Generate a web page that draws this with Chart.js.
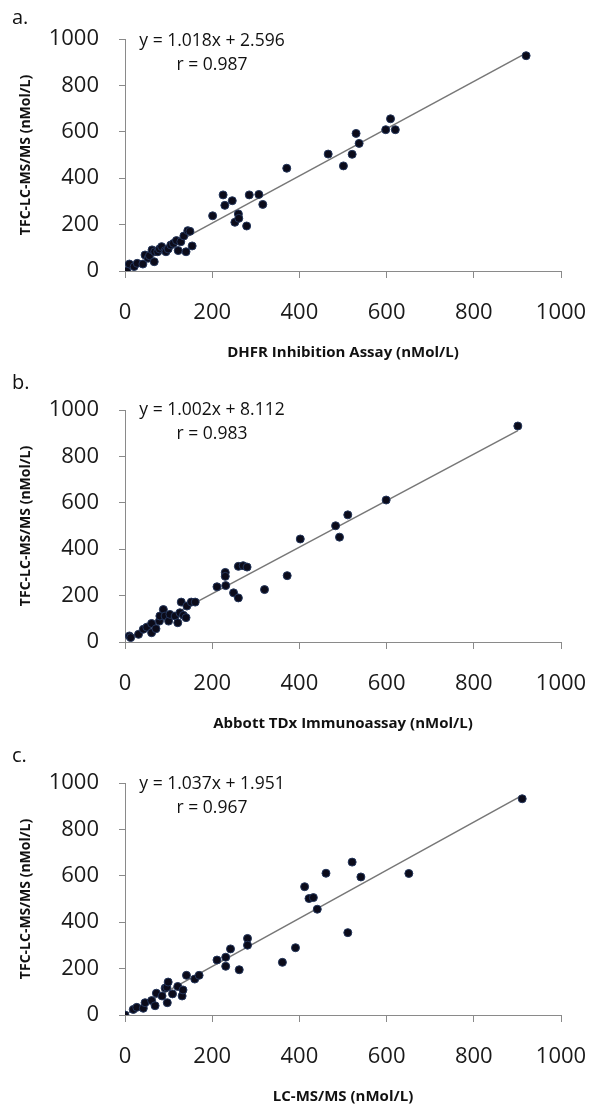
<!DOCTYPE html>
<html>
<head>
<meta charset="utf-8">
<script src="https://cdn.jsdelivr.net/npm/chart.js@4.4.0/dist/chart.umd.min.js"></script>
<style>
  html, body { margin: 0; padding: 0; background: #fff; }
  body { width: 590px; height: 1106px; position: relative; overflow: hidden; font-family: "Open Sans", sans-serif; }
  .panel { position: absolute; left: 0; width: 590px; height: 370px; }
  .panel canvas { position: absolute; left: 0; top: 0; }
  .tag { position: absolute; left: 12px; font-size: 20px; line-height: 1; color: #111; }
  .eq { position: absolute; left: 112px; width: 200px; text-align: center; font-size: 17.5px; line-height: 24px; color: #111; }
</style>
</head>
<body>

<div class="panel" style="top:0px"><canvas id="chart-a" width="590" height="370"></canvas></div>
<div class="panel" style="top:371px"><canvas id="chart-b" width="590" height="370"></canvas></div>
<div class="panel" style="top:744px"><canvas id="chart-c" width="590" height="370"></canvas></div>

<div class="tag" style="top:7px">a.</div>
<div class="tag" style="top:372px">b.</div>
<div class="tag" style="top:745px">c.</div>

<div class="eq" style="top:27px">y = 1.018x + 2.596<br>r = 0.987</div>
<div class="eq" style="top:396px">y = 1.002x + 8.112<br>r = 0.983</div>
<div class="eq" style="top:770px">y = 1.037x + 1.951<br>r = 0.967</div>

<script>
/* axis ticks (same on all three panels) */
var axisMin = 0;
var axisMax = 1000;
var axisStep = 200;

/* a. DHFR inhibition assay vs TFC-LC-MS/MS */
var dhfrPairs = [
  [4,0],[10,30],[21,19],[28,33],[41,30],[46,69],[53,55],[56,66],[62,91],[67,40],
  [68,83],[75,83],[79,95],[84,105],[92,88],[94,83],[99,95],[105,112],[111,119],[118,131],
  [122,88],[128,126],[135,151],[140,83],[144,174],[149,171],[154,108],[201,238],[225,328],[229,283],
  [246,303],[252,210],[260,246],[261,227],[279,194],[285,328],[307,330],[316,287],[371,443],[466,504],
  [501,453],[521,503],[530,593],[537,550],[598,609],[609,656],[620,609],[920,928]
];
var dhfrFit = [1.018, 2.596];

/* b. Abbott TDx immunoassay vs TFC-LC-MS/MS */
var tdxPairs = [
  [10,26],[13,19],[31,33],[42,55],[50,64],[61,40],[61,80],[71,57],[79,90],[80,112],
  [88,140],[92,112],[100,90],[103,119],[115,112],[121,83],[126,126],[129,172],[134,115],[140,105],
  [142,155],[152,172],[161,172],[211,238],[230,300],[230,283],[231,243],[249,212],[260,190],[260,326],
  [271,329],[280,323],[320,226],[372,286],[402,444],[483,501],[492,452],[511,548],[599,612],[901,931]
];
var tdxFit = [1.002, 8.112];

/* c. LC-MS/MS vs TFC-LC-MS/MS */
var lcmsPairs = [
  [0,0],[19,24],[27,33],[42,29],[46,53],[61,62],[69,40],[72,94],[85,82],[92,116],
  [96,120],[97,53],[99,142],[109,91],[121,123],[131,82],[133,108],[141,171],[160,155],[170,171],
  [211,237],[231,249],[231,210],[242,285],[262,195],[281,330],[281,301],[361,227],[391,290],[412,553],
  [422,502],[432,506],[441,456],[461,611],[511,355],[521,659],[541,595],[651,610],[911,932]
];
var lcmsFit = [1.037, 1.951];

var yTitle = 'TFC-LC-MS/MS (nMol/L)';
var xTitles = ['DHFR Inhibition Assay (nMol/L)', 'Abbott TDx Immunoassay (nMol/L)', 'LC-MS/MS (nMol/L)'];

var FONT = '"Open Sans", sans-serif';
var AXIS_GREY = '#8a8a8a';

function plainTick(v) { return String(v); }

function makeScatter(canvasId, pairs, fit, xTitle) {
  var canvas = document.getElementById(canvasId);
  if (!canvas) return;

  var points = pairs.map(function(p) { return { x: p[0], y: p[1] }; });
  var xs = pairs.map(function(p) { return p[0]; });
  var xLo = Math.min.apply(null, xs);
  var xHi = Math.max.apply(null, xs);
  var trend = [xLo, xHi].map(function(x) { return { x: x, y: fit[0] * x + fit[1] }; });

  new Chart(canvas, {
    type: 'scatter',
    data: {
      datasets: [
        {
          data: points,
          backgroundColor: '#0b0b1a',
          borderColor: '#23355a',
          borderWidth: 1,
          pointRadius: 4,
          order: 0
        },
        {
          data: trend,
          showLine: true,
          borderColor: '#777',
          borderWidth: 1.5,
          pointRadius: 0,
          order: 1
        }
      ]
    },
    options: {
      responsive: false,
      animation: false,
      devicePixelRatio: 1,
      layout: { padding: { top: 39, right: 29, left: 0, bottom: 0 } },
      plugins: { legend: { display: false }, tooltip: { enabled: false } },
      scales: {
        x: {
          type: 'linear',
          min: axisMin,
          max: axisMax,
          ticks: { stepSize: axisStep, padding: 22, maxRotation: 0, color: '#1a1a1a', callback: plainTick,
                   font: { family: FONT, size: 22 } },
          grid: { drawOnChartArea: false, tickLength: 7, color: AXIS_GREY },
          border: { color: AXIS_GREY },
          title: { display: true, text: xTitle, color: '#111', padding: { top: 0, bottom: 8 },
                   font: { family: FONT, size: 15, weight: 'bold' } },
          afterFit: function(s) { s.height = 99; s.paddingLeft = 0; s.paddingRight = 0; }
        },
        y: {
          type: 'linear',
          min: axisMin,
          max: axisMax,
          ticks: { stepSize: axisStep, padding: 20, color: '#1a1a1a', callback: plainTick,
                   font: { family: FONT, size: 22 } },
          grid: { drawOnChartArea: false, tickLength: 6, color: AXIS_GREY },
          border: { color: AXIS_GREY },
          title: { display: true, text: yTitle, color: '#111', padding: { top: 18, bottom: 0 },
                   font: { family: FONT, size: 14, weight: 'bold' } },
          afterFit: function(s) { s.width = 125; s.paddingTop = 0; s.paddingBottom = 0; }
        }
      }
    }
  });
}

makeScatter('chart-a', dhfrPairs, dhfrFit, xTitles[0]);
makeScatter('chart-b', tdxPairs, tdxFit, xTitles[1]);
makeScatter('chart-c', lcmsPairs, lcmsFit, xTitles[2]);
</script>
</body>
</html>
